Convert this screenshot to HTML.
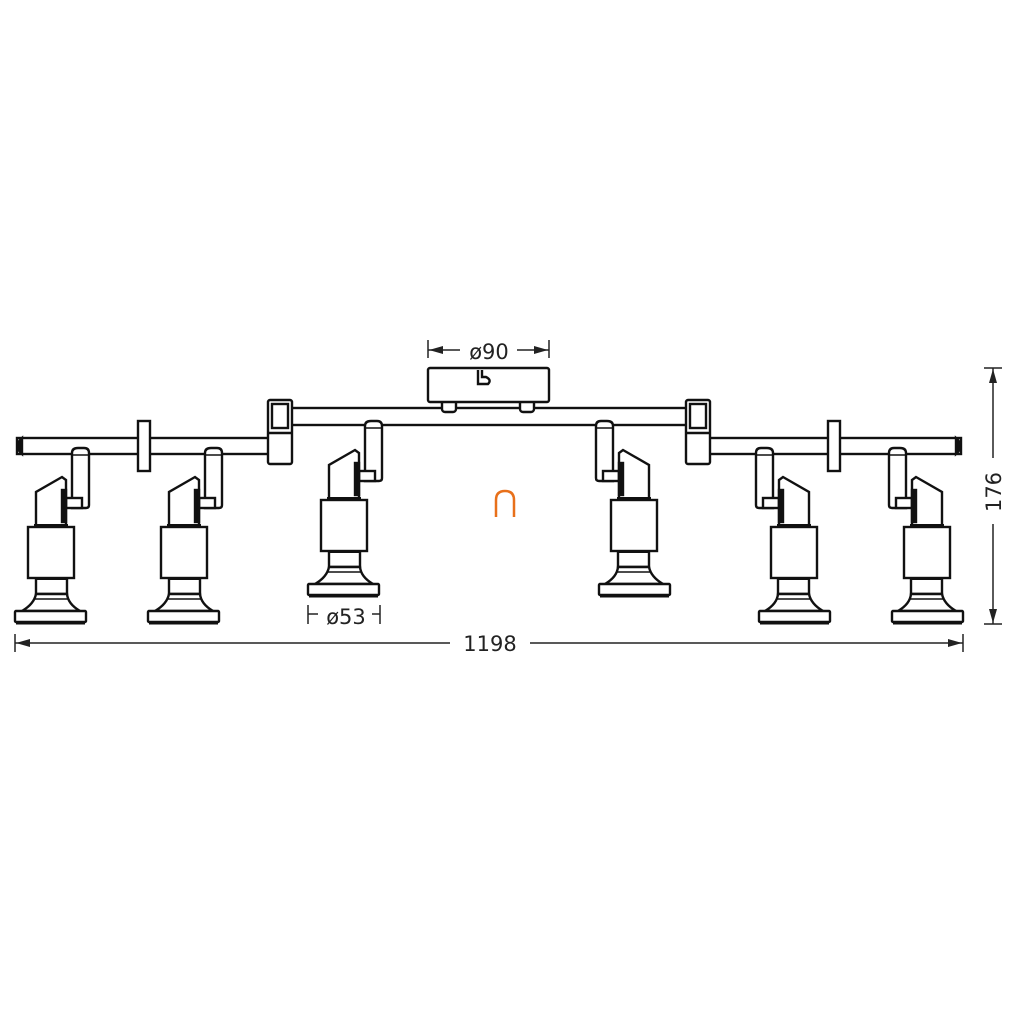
<!DOCTYPE html>
<html><head><style>
html,body{margin:0;padding:0;background:#fff;}
svg{display:block;}
text{font-family:"DejaVu Sans","Liberation Sans",sans-serif;fill:#222;}
</style></head><body>
<svg width="1010" height="1010" viewBox="0 0 1010 1010" xmlns="http://www.w3.org/2000/svg">
<defs>
<g id="spot" fill="#fff" stroke="#111" stroke-width="2.4">
  <path d="M72,508 L72,453 Q72,448 78,448 L84,448 Q89,448 89,453 L89,505 Q89,508 86,508 Z"/>
  <line x1="72" y1="455" x2="89" y2="455" stroke-width="1.5"/>
  <rect x="66" y="498" width="16" height="10"/>
  <path d="M36,530 L36,492 L62,477 L66,480 L66,530 Z"/>
  <rect x="62" y="490" width="4" height="32" fill="#111"/>
  <rect x="34" y="524" width="34" height="4" fill="#111" stroke="none"/>
  <rect x="28" y="527" width="46" height="51"/>
  <path d="M36,578 L36,594 L67,594 L67,578"/>
  <rect x="35" y="577" width="33" height="3" fill="#111" stroke="none"/>
  <path d="M36,594 Q34,604 22,611 L80,611 Q68,604 67,594 Z"/>
  <line x1="35" y1="599" x2="68" y2="599" stroke-width="1.5"/>
  <rect x="15" y="611" width="71" height="11" rx="1"/>
  <line x1="16" y1="623" x2="85" y2="623" stroke-width="3"/>
</g>
</defs>

<rect x="17" y="438" width="255" height="16" fill="#fff" stroke="#111" stroke-width="2.4"/>
<path d="M22,438 Q13,446 22,454 Z" fill="#111" stroke="#111" stroke-width="2.4"/>
<rect x="138" y="421" width="12" height="50" fill="#fff" stroke="#111" stroke-width="2.4"/>
<rect x="706" y="438" width="255" height="16" fill="#fff" stroke="#111" stroke-width="2.4"/>
<path d="M956,438 Q965,446 956,454 Z" fill="#111" stroke="#111" stroke-width="2.4"/>
<rect x="828" y="421" width="12" height="50" fill="#fff" stroke="#111" stroke-width="2.4"/>
<rect x="288" y="408" width="402" height="17" fill="#fff" stroke="#111" stroke-width="2.4"/>
<g fill="#fff" stroke="#111" stroke-width="2.4">
<rect x="268" y="400" width="24" height="64" rx="2"/>
<rect x="272" y="404" width="16" height="24"/>
<line x1="268" y1="433" x2="292" y2="433"/>
<rect x="686" y="400" width="24" height="64" rx="2"/>
<rect x="690" y="404" width="16" height="24"/>
<line x1="686" y1="433" x2="710" y2="433"/>
<rect x="442" y="400" width="14" height="12" rx="3"/>
<rect x="520" y="400" width="14" height="12" rx="3"/>
<rect x="428" y="368" width="121" height="34" rx="2"/>
<path d="M478,370 L478,384 L488,384 Q492,380 486,377 L482,377 L482,370" fill="none"/>
</g>

<use href="#spot"/>
<use href="#spot" transform="translate(133,0)"/>
<use href="#spot" transform="translate(293,-27)"/>
<g transform="translate(978,0) scale(-1,1)">
<use href="#spot"/>
<use href="#spot" transform="translate(133,0)"/>
<use href="#spot" transform="translate(293,-27)"/>
</g>

<path d="M496,517 L496,500 Q496,491 505,491 Q514,491 514,500 L514,517" fill="none" stroke="#e8701a" stroke-width="2.5"/>

<g stroke="#222" stroke-width="1.5" fill="#222">
<line x1="428" y1="340" x2="428" y2="358"/>
<line x1="549" y1="340" x2="549" y2="358"/>
<line x1="428" y1="350" x2="460" y2="350"/>
<line x1="517" y1="350" x2="549" y2="350"/>
<path d="M429,350 L443,346 L443,354 Z" stroke="none"/>
<path d="M548,350 L534,346 L534,354 Z" stroke="none"/>
<line x1="15" y1="634" x2="15" y2="652"/>
<line x1="963" y1="634" x2="963" y2="652"/>
<line x1="15" y1="643" x2="450" y2="643"/>
<line x1="530" y1="643" x2="963" y2="643"/>
<path d="M16,643 L30,639 L30,647 Z" stroke="none"/>
<path d="M962,643 L948,639 L948,647 Z" stroke="none"/>
<line x1="984" y1="368" x2="1002" y2="368"/>
<line x1="984" y1="624" x2="1002" y2="624"/>
<line x1="993" y1="368" x2="993" y2="458"/>
<line x1="993" y1="524" x2="993" y2="624"/>
<path d="M993,369 L989,383 L997,383 Z" stroke="none"/>
<path d="M993,623 L989,609 L997,609 Z" stroke="none"/>
<line x1="308" y1="605" x2="308" y2="624"/>
<line x1="380" y1="605" x2="380" y2="624"/>
<line x1="308" y1="614" x2="318" y2="614"/>
<line x1="372" y1="614" x2="380" y2="614"/>
</g>
<text x="489" y="359" font-size="21" text-anchor="middle">ø90</text>
<text x="490" y="651" font-size="21" text-anchor="middle">1198</text>
<text x="346" y="624" font-size="21" text-anchor="middle">ø53</text>
<text transform="translate(1001,492) rotate(-90)" font-size="21" text-anchor="middle">176</text>
</svg>
</body></html>
